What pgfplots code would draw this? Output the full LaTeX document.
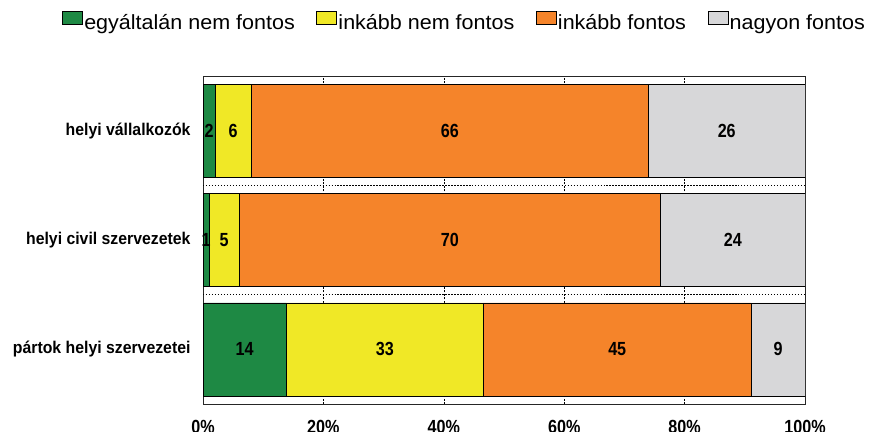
\documentclass[border=0pt]{standalone}
\usepackage{pgfplots}
\pgfplotsset{compat=1.18}
\usepackage{pgfplotstable}
\usepackage{fontspec}
\setmainfont{Liberation Sans}
\newfontfamily\legfont[FakeStretch=1.05]{Liberation Sans}
\newfontfamily\catfont[FakeStretch=0.93]{Liberation Sans}
\newfontfamily\numfont[FakeStretch=0.85]{Liberation Sans}
\definecolor{cgreen}{RGB}{30,137,68}
\definecolor{cyellow}{RGB}{240,232,38}
\definecolor{corange}{RGB}{245,132,42}
\definecolor{cgray}{RGB}{215,215,217}

% x = share of the bar (normalised to 100), lab = printed value
\pgfplotstableread{
y x lab
1 13.861 14
2 1 1
3 2 2
}\tgreen
\pgfplotstableread{
y x lab
1 32.673 33
2 5 5
3 6 6
}\tyellow
\pgfplotstableread{
y x lab
1 44.554 45
2 70 70
3 66 66
}\torange
\pgfplotstableread{
y x lab
1 8.911 9
2 24 24
3 26 26
}\tgray

\pgfplotsset{seg/.style={fill=#1, draw=black, line width=0.6pt,
  point meta=explicit, nodes near coords,
  every node near coord/.append style={anchor=center, text=black,
    font=\numfont\bfseries\fontsize{19bp}{22bp}\selectfont}}}

\begin{document}
\begin{tikzpicture}
\path[use as bounding box] (0,0) rectangle (872bp,432bp);
\begin{axis}[
  at={(203bp,28bp)}, anchor=south west,
  scale only axis, width=602bp, height=328bp,
  xbar stacked, bar width=93bp,
  xmin=0, xmax=100, ymin=0.5, ymax=3.5, enlargelimits=false,
  xtick={0,20,40,60,80,100},
  xticklabels={0\%,20\%,40\%,60\%,80\%,100\%},
  ytick={1,2,3},
  yticklabels={pártok helyi szervezetei,helyi civil szervezetek,helyi vállalkozók},
  major tick length=0pt,
  xmajorgrids,
  major grid style={black, dash pattern=on 2pt off 1.5pt, line width=0.5pt},
  extra y ticks={1.5,2.5}, extra y tick labels={},
  extra y tick style={ymajorgrids=true,
     major grid style={black, dash pattern=on 1.5pt off 1.5pt, line width=0.6pt}},
  axis line style={black!85, line width=0.8pt},
  /pgf/number format/assume math mode=true,
  xticklabel style={font=\numfont\bfseries\fontsize{19bp}{22bp}\selectfont, yshift=-13bp},
  yticklabel style={font=\catfont\bfseries\fontsize{17bp}{20bp}\selectfont, xshift=-9bp},
  legend columns=4,
  legend style={at={(axis description cs:0.434,1.165)}, anchor=center,
     draw=none, fill=none, inner sep=0pt,
     font=\legfont\fontsize{20.5bp}{24bp}\selectfont,
     nodes={inner sep=1.5bp},
     /tikz/every even column/.append style={column sep=20bp}},
  legend image code/.code={\draw[#1, draw=black, line width=0.6pt] (0bp,-1bp) rectangle (20bp,12bp);},
]
\addplot[seg=cgreen] table[x=x, y=y, meta=lab] {\tgreen};
\addlegendentry{egyáltalán nem fontos}
\addplot[seg=cyellow] table[x=x, y=y, meta=lab] {\tyellow};
\addlegendentry{inkább nem fontos}
\addplot[seg=corange] table[x=x, y=y, meta=lab] {\torange};
\addlegendentry{inkább fontos}
\addplot[seg=cgray] table[x=x, y=y, meta=lab] {\tgray};
\addlegendentry{nagyon fontos}
\end{axis}
\end{tikzpicture}
\end{document}
